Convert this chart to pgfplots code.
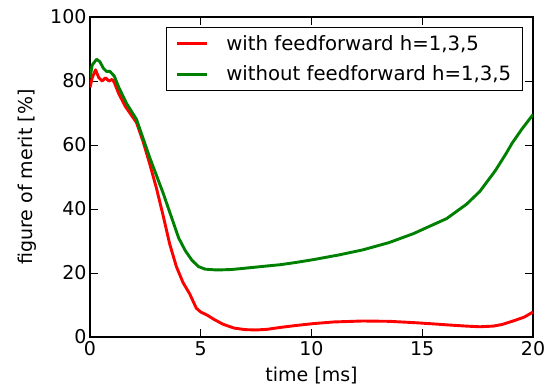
\documentclass[border=0pt]{standalone}
\usepackage{fontspec}
\setmainfont{DejaVu Sans}
\usepackage{pgfplots}
\pgfplotsset{compat=1.18}
\definecolor{mplgreen}{RGB}{0,128,0}
\begin{document}
\begin{tikzpicture}[font=\fontsize{19}{22}\selectfont]
\begin{axis}[
  scale only axis,
  width=443pt, height=320pt,
  xmin=0, xmax=20, ymin=0, ymax=100,
  xtick={0,5,10,15,20}, ytick={0,20,40,60,80,100},
  tick align=inside,
  major tick length=8pt,
  tick style={line width=0.8pt, black},
  axis line style={line width=1.2pt},
  /pgf/number format/assume math mode=true,
  tick label style={font=\fontsize{19}{22}\selectfont},
  xticklabel style={yshift=-1pt},
  yticklabel style={xshift=0pt},
  xlabel={time [ms]},
  ylabel={figure of merit [\%]},
  xlabel style={at={(axis description cs:0.5,-0.1406)}, anchor=base},
  ylabel style={at={(axis description cs:-0.1287,0.5)}, anchor=base},
  legend style={at={(0.977,0.969)}, anchor=north east, draw=black, line width=1.1pt,
    inner xsep=9pt, inner ysep=6pt, row sep=10pt,
    font=\fontsize{19.7}{22}\selectfont,
    /tikz/every odd column/.append style={column sep=16pt}},
  legend cell align=left,
  legend image code/.code={\draw[#1, line width=3pt] (0pt,0pt) -- (30pt,0pt);},
  every axis plot/.append style={line width=2.9pt, line join=round},
]
\addplot[red] coordinates {
(0.0,78) (0.1,81) (0.25,83.5) (0.4,81) (0.55,80) (0.7,81) (0.85,80) (1.0,80.5) (1.1,79.5)
(1.3,76) (1.6,72) (1.9,69) (2.1,67) (2.4,61) (2.7,54) (3.0,46.5) (3.3,38) (3.6,29)
(3.9,22) (4.2,17) (4.5,13.5) (4.8,9) (5.0,7.8) (5.3,6.8) (5.6,5.5) (6.0,4) (6.5,2.8)
(7.0,2.3) (7.5,2.2) (8.0,2.4) (8.6,3.0) (9.3,3.6) (10.1,4.2) (11,4.7) (12.3,5) (13.5,4.9)
(14.6,4.5) (15.5,4.1) (16.1,3.8) (17.0,3.4) (17.6,3.2) (18.2,3.4) (18.6,3.9) (19.1,5.0)
(19.6,6.2) (20,7.8)
};
\addlegendentry{with feedforward h=1,3,5}
\addplot[mplgreen] coordinates {
(0.0,81) (0.1,85) (0.3,86.8) (0.45,86) (0.6,84) (0.75,83) (0.9,83) (1.1,81.5) (1.3,78)
(1.65,73) (2.1,68) (2.4,62) (2.7,56) (3.0,50.5) (3.3,45) (3.6,39) (4.0,31) (4.3,27)
(4.6,24) (4.9,22) (5.2,21.2) (5.6,21) (6.0,21) (6.4,21.1) (7.0,21.5) (8.0,22.2) (8.6,22.6)
(9.3,23.3) (10.1,24.2) (11.2,25.6) (12.3,27.2) (13.5,29.5) (14.6,32.3) (15.3,34.5)
(16.1,37) (17.0,41.5) (17.6,45.5) (18.3,52) (18.8,57.5) (19.05,60.5) (19.5,65) (20,69.5)
};
\addlegendentry{without feedforward h=1,3,5}
\end{axis}
\pgfresetboundingbox
\path[use as bounding box] (-90pt,-51pt) rectangle (469pt,337pt);
\end{tikzpicture}
\end{document}
